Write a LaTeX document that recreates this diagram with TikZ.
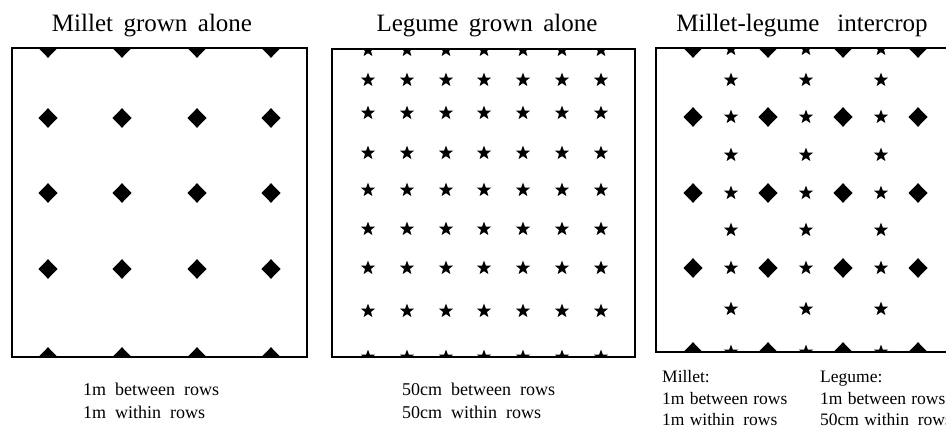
\documentclass[tikz,border=0pt]{standalone}
\usepackage{fontspec}
\setmainfont{Liberation Serif}
\newcommand\mytitlefont{\fontsize{25}{30}\selectfont\spaceskip=0.42em\relax}
\newcommand\mylabfont{\fontsize{18}{23}\selectfont\spaceskip=0.5em\relax}
\newcommand\mylabsfont{\fontsize{17.5}{20}\selectfont\spaceskip=0.3em\relax}
\begin{document}
\begin{tikzpicture}[x=1pt,y=-1pt,
  boxline/.style={line width=1.8pt},
  dia/.pic={\fill (-9.5,0) -- (0,-9.8) -- (9.5,0) -- (0,9.8) -- cycle;},
  starmark/.pic={\fill (-90:7.4) -- (-54:3.1) -- (-18:7.4) -- (18:3.1) -- (54:7.4) -- (90:3.1) -- (126:7.4) -- (162:3.1) -- (198:7.4) -- (234:3.1) -- cycle;},
  title/.style={font=\mytitlefont, anchor=base, inner sep=0pt},
  lab/.style={font=\mylabfont, anchor=base west, inner sep=0pt},
  labs/.style={font=\mylabsfont, anchor=base west, inner sep=0pt},
]
\clip (0,0) rectangle (946,428);
\fill[white] (0,0) rectangle (946,428);

% titles
\node[title] (t1) at (152,32) {Millet grown alone};
\node[title] (t2) at (487,32) {Legume grown alone};
\node[title] (t3) at (802,32) {Millet-legume\hspace{0.3em} intercrop};

% boxes
\draw[boxline] (12,48) rectangle (307,357);
\draw[boxline] (332,49) rectangle (635,357);
\draw[boxline] (656,48) rectangle (958,352);

% millet alone
\begin{scope}
\clip (12,48) rectangle (307,357);
\foreach \x in {48,122,197,271}
  \foreach \y in {48,118,193,269,357}
    \pic at (\x,\y) {dia};
\end{scope}

% legume alone
\begin{scope}
\clip (332,49) rectangle (635,357);
\foreach \x in {368,407,446,484,523,562,601}
  \foreach \y in {50,80,113,153,190,229,268,311,357}
    \pic at (\x,\y) {starmark};
\end{scope}

% intercrop
\begin{scope}
\clip (656,48) rectangle (958,352);
\foreach \x in {693,768,843,918}
  \foreach \y in {48,117,193,268,352}
    \pic at (\x,\y) {dia};
\foreach \x in {731,806,881}
  \foreach \y in {49,80,117,155,193,230,268,309,352}
    \pic at (\x,\y) {starmark};
\end{scope}

% labels
\node[lab] (l1a) at (83,395) {1m between rows};
\node[lab] (l1b) at (83,418) {1m within rows};
\node[lab] (l2a) at (402,395) {50cm between rows};
\node[lab] (l2b) at (402,418) {50cm within rows};
\node[labs] (l3a) at (662,382) {Millet:};
\node[labs] (l3b) at (662,404) {1m between rows};
\node[labs] (l3c) at (662,425) {1m within\hspace{0.2em} rows};
\node[labs] (l4a) at (820,382) {Legume:};
\node[labs] (l4b) at (820,404) {1m between rows};
\node[labs] (l4c) at (820,425) {50cm within\hspace{0.2em} rows};
\end{tikzpicture}
\end{document}
